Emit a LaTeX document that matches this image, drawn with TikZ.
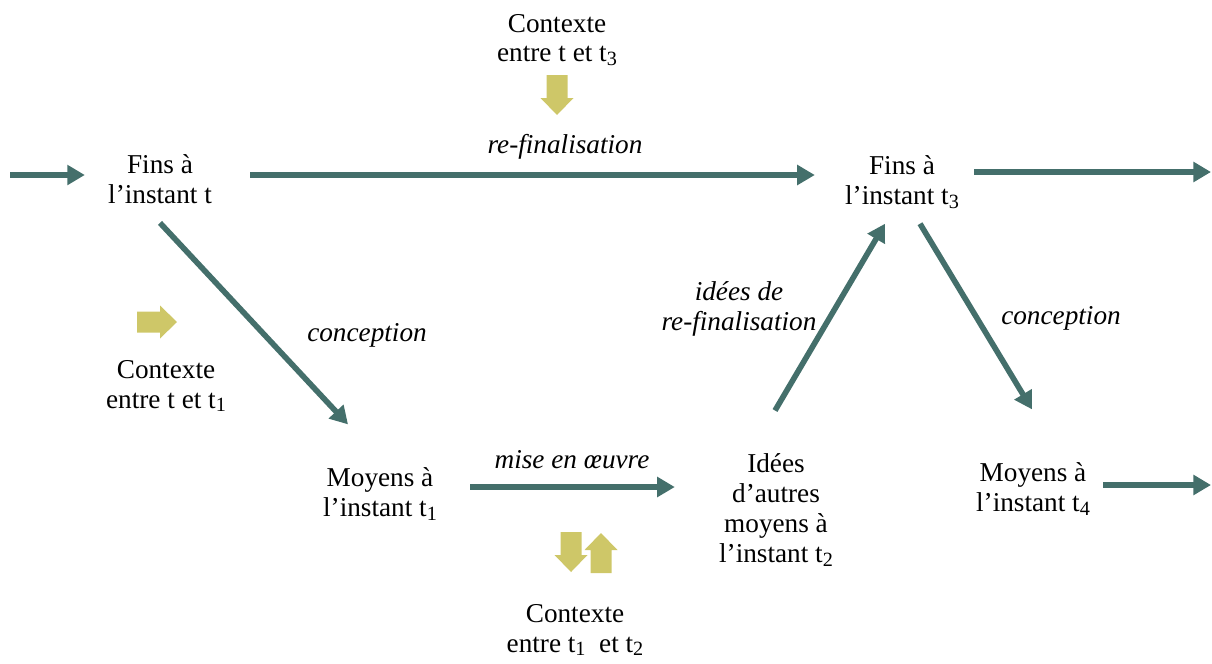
\documentclass[tikz,border=0pt]{standalone}
\usepackage{fontspec}
\setmainfont{Liberation Serif}
\usepackage{xcolor}
\usepackage{tikz}
\usetikzlibrary{arrows.meta}
\usetikzlibrary{calc}
\definecolor{flowteal}{RGB}{68,111,107}
\definecolor{ctxyellow}{RGB}{206,199,104}
\newcommand{\tsub}[1]{\raisebox{-0.3ex}{\fontsize{11.5}{11.5}\selectfont #1}}
\tikzset{
  stage/.style={align=center, inner sep=0pt, font=\fontsize{15.5}{17}\selectfont},
  act/.style={stage, font=\fontsize{15.5}{17}\selectfont\itshape},
  flow/.style={flowteal, line width=3.2pt, -{Triangle[length=10pt,width=11pt]}},
  ctxarrow/.pic={\fill[ctxyellow] (-20,-10.5) -- (3,-10.5) -- (3,-16.5) -- (20,0)
      -- (3,16.5) -- (3,10.5) -- (-20,10.5) -- cycle;}
}

\begin{document}
\begin{tikzpicture}[x=0.02cm, y=-0.02cm]
        \useasboundingbox (0,0) rectangle (1212,663);

        \node[stage] (fins0) at (160,179) {Fins à\\l’instant t};
        \node[stage] (fins3) at (902,182) {Fins à\\l’instant t\tsub{3}};
        \node[stage] (moyens1) at (380,494) {Moyens à\\l’instant t\tsub{1}};
        \node[stage] (idees2) at (776,510) {Idées\\d’autres\\moyens à\\l’instant t\tsub{2}};
        \node[stage] (moyens4) at (1033,489) {Moyens à\\l’instant t\tsub{4}};

        \node[stage] (ctx3) at (557,40) {Contexte\\entre t et t\tsub{3}};
        \node[stage] (ctx1) at (166,386) {Contexte\\entre t et t\tsub{1}};
        \node[stage] (ctx12) at (575,630) {Contexte\\entre t\tsub{1}\ \ et t\tsub{2}};

        \node[act] (refin) at (565,147) {re-finalisation};
        \node[act] (conc1) at (367,335) {conception};
        \node[act] (mise) at (572,460) {mise en œuvre};
        \node[act] (ideesrefin) at (739,309) {idées de\\re-finalisation};
        \node[act] (conc4) at (1061,318) {conception};

        \coordinate (in) at (10,175);
        \coordinate (out3) at (1211,172);
        \coordinate (out4) at (1211,485);

        \draw[flow] (in) -- ($(in -| fins0.west)+(-23,0)$);
        \draw[flow] ($(fins0.east)+(38,-4)$) -- ($(fins3.west)+(-30,-7)$);
        \draw[flow] ($(fins3.east |- out3)+(15,0)$) -- (out3);
        \draw[flow] ($(fins0.south)+(0,19)$) -- ($(moyens1.north)+(-32,-43)$);
        \draw[flow] ($(moyens1.east)+(33,-7)$) -- ($(idees2.west)+(-44,-23)$);
        \draw[flow] ($(idees2.north)+(-1,-43)$) -- ($(fins3.south)+(-17,15)$);
        \draw[flow] ($(fins3.south)+(18,15)$) -- ($(moyens4.north)+(-1,-53)$);
        \draw[flow] ($(moyens4.east |- out4)+(13,0)$) -- (out4);

        \pic at (157,322) {ctxarrow};
        \pic[rotate=-90] at (557,95) {ctxarrow};
        \pic[rotate=-90] at (571,552) {ctxarrow};
        \pic[rotate=90] at (601,553) {ctxarrow};
\end{tikzpicture}
\end{document}
